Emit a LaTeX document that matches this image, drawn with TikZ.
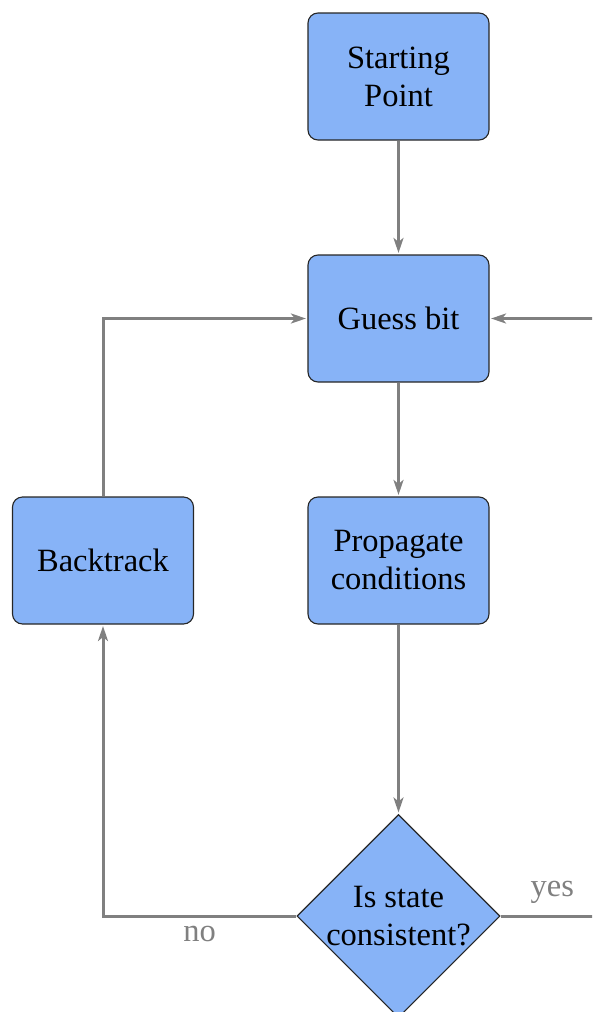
\documentclass[tikz,border=0pt]{standalone}
\usepackage{fontspec}
\setmainfont{Liberation Serif}
\usetikzlibrary{shapes.geometric,arrows.meta}
\definecolor{boxblue}{RGB}{135,179,247}
\definecolor{flowgray}{RGB}{128,128,128}
\begin{document}
\begin{tikzpicture}[x=1pt,y=-1pt,
  txt/.style={font=\fontsize{32.5}{38}\selectfont},
  block/.style={txt, draw=black!85, line width=1.1pt, fill=boxblue,
    rounded corners=10pt, minimum width=181pt, minimum height=127pt,
    inner sep=0pt, align=center},
  decision/.style={diamond, draw=black!85, line width=1.1pt, fill=boxblue,
    minimum width=203pt, minimum height=203pt, inner sep=0pt},
  flow/.style={draw=flowgray, line width=3pt, shorten >=1.5pt,
    -{Stealth[length=15pt,width=10pt,inset=4pt]}},
  lbl/.style={txt, text=flowgray, inner sep=3pt}
]
\clip (0,0) rectangle (592,1012);

% process steps
\node[block] (start) at (398.5,76.5)  {Starting\\Point};
\node[block] (guess) at (398.5,318.5) {Guess bit};
\node[block] (prop)  at (398.5,560.5) {Propagate\\conditions};
\node[block] (back)  at (103,560.5)   {Backtrack};

% consistency check
\node[decision] (check) at (398.5,916) {};
\node[txt, align=center] (checktext) at (398.5,916) {Is state\\consistent?};

% return point on the right-hand side
\coordinate (loop) at (604,318.5);

% connectors
\draw[flow] (start) -- (guess);
\draw[flow] (guess) -- (prop);
\draw[flow] (prop) -- (check);
\draw[flow] (check.west) -| node[lbl, pos=0.25, below=6pt] {no} (back.south);
\draw[flow] (back.north) |- (guess.west);
\draw[flow] (check.east) -| node[lbl, pos=0.25, above=8pt] {yes} (loop) -- (guess.east);
\end{tikzpicture}
\end{document}
